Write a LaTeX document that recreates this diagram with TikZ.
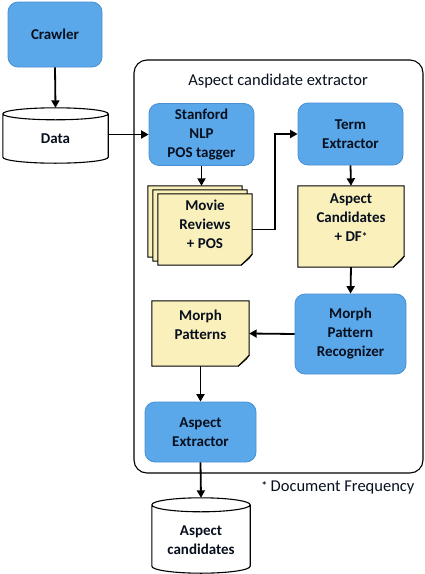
\documentclass[tikz,border=0pt]{standalone}
\usepackage{fontspec}
\setmainfont{Carlito}
\usetikzlibrary{arrows.meta,calc}
\definecolor{boxblue}{HTML}{5AA7EA}
\definecolor{boxblueline}{HTML}{4A8FD2}
\definecolor{noteyellow}{HTML}{FAF0BC}
\definecolor{txt}{HTML}{08101E}
\tikzset{
  proc/.style={rectangle, rounded corners=10pt, fill=boxblue, draw=boxblueline, line width=0.8pt,
    font=\fontsize{15}{19}\selectfont\bfseries, text=txt, align=center, inner sep=2pt},
  notebg/.style={rectangle, draw=none, font=\fontsize{15}{19}\selectfont\bfseries, text=txt, align=center, inner sep=2pt},
  store/.style={rectangle, draw=none, font=\fontsize{15}{19}\selectfont\bfseries, text=txt, align=center, inner sep=2pt},
  flow/.style={line width=1.8pt, -{Triangle[length=7.5pt,width=8pt]}},
  noteline/.style={draw=black, line width=1pt, fill=noteyellow},
}
% folded note outline around a named node
\newcommand{\notepath}[1]{%
  \path[noteline] (#1.north west) -- (#1.north east) -- ([yshift=11pt]#1.south east)
     -- ([xshift=-11pt]#1.south east) -- (#1.south west) -- cycle;
  \path[noteline] ([yshift=11pt]#1.south east) -- ([xshift=-3pt,yshift=7pt]#1.south east)
     -- ([xshift=-11pt]#1.south east);
}
% cylinder outline around a named node
\newcommand{\cylpath}[2]{%
  \path let \p1=(#1.north west), \p2=(#1.south east), \n1={(\x2-\x1)/2} in
    [draw=black, line width=1.1pt, fill=white]
    (\x1,\y1-#2) -- (\x1,\y2+#2) arc[start angle=180,end angle=360,x radius=\n1,y radius=#2]
    -- (\x2,\y1-#2) arc[start angle=0,end angle=180,x radius=\n1,y radius=#2] -- cycle
    (\x1,\y1-#2) arc[start angle=180,end angle=360,x radius=\n1,y radius=#2];
}
\begin{document}
\begin{tikzpicture}[x=1pt,y=-1pt]
\useasboundingbox (0,0) rectangle (425,574);
% container
\draw[line width=1.1pt, rounded corners=13pt] (134,60) rectangle (423,473);
\node[font=\fontsize{16.5}{19}\selectfont, text=txt] (title) at (278,81) {Aspect candidate extractor};

% crawler
\node[proc, minimum width=94pt, minimum height=65pt] (crawler) at (55,34.5) {Crawler};
% data store
\node[store, minimum width=105pt, minimum height=55pt] (data) at (55.5,135.5) {};
\cylpath{data}{6pt}
\node[store] (datatxt) at (55.5,139) {Data};

% Stanford
\node[proc, minimum width=105pt, minimum height=62pt] (stanford) at (201.5,134.5) {Stanford\\NLP\\POS tagger};
% Term extractor
\node[proc, minimum width=105pt, minimum height=62pt] (term) at (350.5,134) {Term\\Extractor};

% movie reviews stack
\node[notebg, minimum width=94pt, minimum height=71pt] (movieback) at (195,221.5) {};
\notepath{movieback}
\node[notebg, minimum width=94pt, minimum height=71pt] (moviemid) at (200,225.5) {};
\notepath{moviemid}
\node[notebg, minimum width=94pt, minimum height=71pt] (movie) at (205,229.5) {};
\notepath{movie}
\node[notebg] (movietxt) at (205,224) {Movie\\Reviews\\+ POS};

% aspect candidates + DF
\node[notebg, minimum width=106pt, minimum height=81pt] (cand) at (351,226.5) {};
\notepath{cand}
\node[notebg] (candtxt) at (351,218) {Aspect\\Candidates\\+ DF\raisebox{0.25ex}{\fontsize{11}{11}\selectfont*}};

% morph pattern recognizer
\node[proc, minimum width=111pt, minimum height=80pt] (morphrec) at (350.5,334) {Morph\\Pattern\\Recognizer};

% morph patterns
\node[notebg, minimum width=97pt, minimum height=65pt] (morphpat) at (200.5,333.5) {};
\notepath{morphpat}
\node[notebg] (morphpattxt) at (200.5,325) {Morph\\Patterns};

% aspect extractor
\node[proc, minimum width=111pt, minimum height=60pt] (aspext) at (200.5,432) {Aspect\\Extractor};

% aspect candidates store
\node[store, minimum width=98pt, minimum height=75pt] (aspcand) at (201,535.5) {};
\cylpath{aspcand}{7pt}
\node[store] (aspcandtxt) at (201,540) {Aspect\\candidates};

% footnote
\node[font=\fontsize{16.5}{19}\selectfont, text=txt, anchor=west] (foot) at (258,488) {\raisebox{0.3ex}{\fontsize{11}{11}\selectfont\bfseries*} Document Frequency};

% connectors
\draw[flow] (crawler.south) -- (data.north);
\draw[flow] (data.east |- stanford.west) -- (stanford.west);
\draw[flow] (stanford.south) -- (stanford.south |- movieback.north);
\draw[flow] (movie.east) -- ++(23,0) |- (term.west);
\draw[flow] (term.south) -- (cand.north);
\draw[flow] (cand.south) -- (morphrec.north);
\draw[flow] (morphrec.west) -- (morphpat.east);
\draw[flow] (morphpat.south) -- (aspext.north);
\draw[flow] (aspext.south) -- (aspcand.north);
\end{tikzpicture}
\end{document}
